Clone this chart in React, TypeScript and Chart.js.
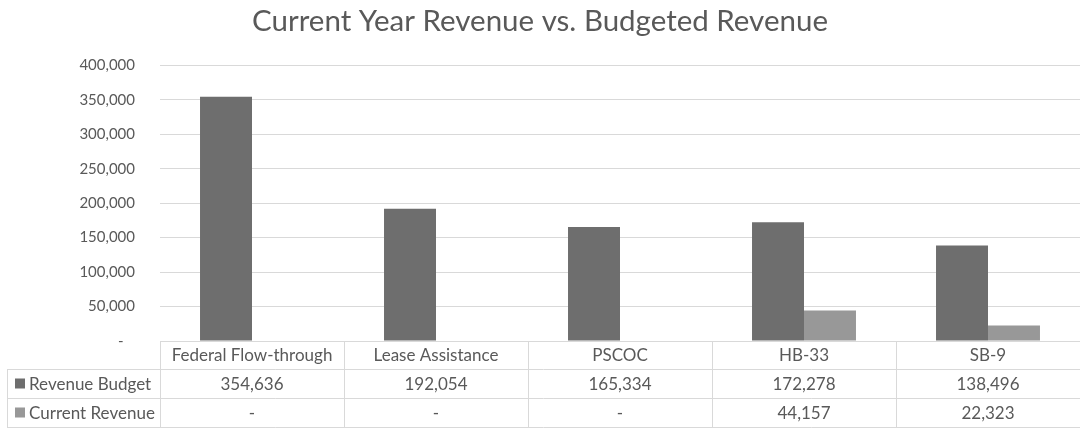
import React, { useEffect, useRef } from "react";
import { Chart, registerables } from "chart.js";

Chart.register(...registerables);

const categories = ["Federal Flow-through", "Lease Assistance", "PSCOC", "HB-33", "SB-9"];
const revenueBudget = [354636, 192054, 165334, 172278, 138496];
const currentRevenue = [0, 0, 0, 44157, 22323];
const seriesNames = ["Revenue Budget", "Current Revenue"];
const yTicks = [0, 50000, 100000, 150000, 200000, 250000, 300000, 350000, 400000];

const TEXT = "#595959";
const GRID = "#d9d9d9";
const COLORS = ["#6e6e6e", "#989898"];
const FONT = "Lato, 'Open Sans', sans-serif";

const fmt = (v: number) => (v === 0 ? "-" : v.toLocaleString("en-US"));

const tablePlugin = {
  id: "dataTable",
  afterDraw(chart: any) {
    const { ctx, chartArea } = chart;
    const xs = chart.scales.x;
    const n = categories.length;
    const left = chartArea.left;
    const right = chartArea.right;
    const colW = (right - left) / n;
    const b = chartArea.bottom;
    const rows = [b, b + 28, b + 57, b + 86];
    const legendLeft = 7;
    const cx = (v: number) => Math.round(v) + 0.5;
    ctx.save();
    ctx.strokeStyle = GRID;
    ctx.lineWidth = 1;
    ctx.beginPath();
    ctx.moveTo(left, cx(rows[0]));
    ctx.lineTo(right, cx(rows[0]));
    for (let r = 1; r < 4; r++) {
      ctx.moveTo(legendLeft, cx(rows[r]));
      ctx.lineTo(right, cx(rows[r]));
    }
    for (let i = 0; i < n; i++) {
      const x = cx(left + i * colW);
      ctx.moveTo(x, rows[0]);
      ctx.lineTo(x, rows[3] + 1);
    }
    ctx.moveTo(cx(legendLeft), rows[1]);
    ctx.lineTo(cx(legendLeft), rows[3] + 1);
    ctx.stroke();

    ctx.fillStyle = TEXT;
    ctx.font = `17px ${FONT}`;
    ctx.textAlign = "center";
    ctx.textBaseline = "middle";
    const seriesData = [revenueBudget, currentRevenue];
    categories.forEach((c, i) => {
      const x = xs.getPixelForValue(i);
      ctx.fillText(c, x, (rows[0] + rows[1]) / 2 + 1);
      seriesData.forEach((d, s) => {
        ctx.fillText(fmt(d[i]), x, (rows[s + 1] + rows[s + 2]) / 2 + 1);
      });
    });
    ctx.textAlign = "left";
    seriesNames.forEach((name, s) => {
      const mid = (rows[s + 1] + rows[s + 2]) / 2;
      ctx.fillStyle = COLORS[s];
      ctx.fillRect(15, mid - 5, 10, 10);
      ctx.fillStyle = TEXT;
      ctx.fillText(name, 29, mid + 1);
    });
    ctx.restore();
  },
};

export default function App() {
  const ref = useRef<HTMLCanvasElement>(null);
  useEffect(() => {
    if (!ref.current) return;
    const chart = new Chart(ref.current, {
      type: "bar",
      data: {
        labels: categories,
        datasets: [
          { label: seriesNames[0], data: revenueBudget, backgroundColor: COLORS[0] },
          { label: seriesNames[1], data: currentRevenue, backgroundColor: COLORS[1] },
        ],
      },
      options: {
        responsive: false,
        animation: false,
        devicePixelRatio: 1,
        layout: { padding: { left: 0, right: 0, top: 0, bottom: 88 } },
        datasets: { bar: { categoryPercentage: 0.565, barPercentage: 1 } },
        plugins: {
          legend: { display: false },
          tooltip: { enabled: false },
          title: {
            display: true,
            text: "Current Year Revenue vs. Budgeted Revenue",
            color: TEXT,
            font: { family: FONT, size: 29.5, weight: "normal" },
            padding: { top: 4, bottom: 26 },
          },
        },
        scales: {
          x: { display: false },
          y: {
            min: 0,
            max: 400000,
            afterFit: (scale: any) => {
              scale.width = 160;
            },
            afterBuildTicks: (scale: any) => {
              scale.ticks = yTicks.map((v) => ({ value: v }));
            },
            ticks: {
              color: TEXT,
              font: { family: FONT, size: 15 },
              padding: 25,
              callback: (v: any) => (Number(v) === 0 ? "-   " : Number(v).toLocaleString("en-US")),
            },
            grid: { color: GRID, drawTicks: false },
            border: { display: false },
          },
        },
      },
      plugins: [tablePlugin],
    });
    return () => chart.destroy();
  }, []);
  return (
    <div style={{ position: "fixed", left: 0, top: 0, width: 1080, height: 429, background: "#fff" }}>
      <canvas ref={ref} width={1080} height={429} />
    </div>
  );
}
